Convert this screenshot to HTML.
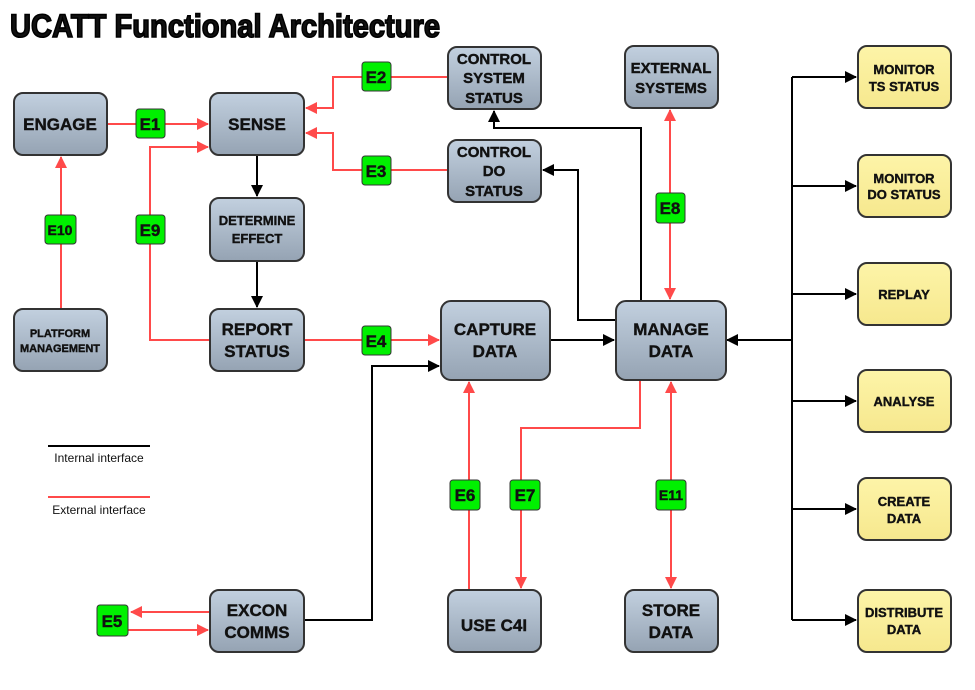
<!DOCTYPE html>
<html><head><meta charset="utf-8"><style>
html,body{margin:0;padding:0;background:#fff;width:975px;height:690px;overflow:hidden}
svg{display:block}
text{font-family:"Liberation Sans",sans-serif;font-weight:bold;text-anchor:middle;fill:#111}
.b text{stroke:#111;stroke-width:0.4}
</style></head><body>
<svg width="975" height="690" viewBox="0 0 975 690" xmlns="http://www.w3.org/2000/svg">
<defs>
<linearGradient id="g" x1="0" y1="0" x2="0" y2="1"><stop offset="0" stop-color="#c2d0df"/><stop offset="1" stop-color="#95a3b3"/></linearGradient>
<linearGradient id="y" x1="0" y1="0" x2="0" y2="1"><stop offset="0" stop-color="#fdf4a8"/><stop offset="1" stop-color="#f6e88e"/></linearGradient>
<marker id="ab" markerWidth="12" markerHeight="12" refX="11" refY="6" orient="auto" markerUnits="userSpaceOnUse"><path d="M0,0 L12,6 L0,12 z" fill="#000"/></marker>
<marker id="ar" markerWidth="12" markerHeight="12" refX="11" refY="6" orient="auto" markerUnits="userSpaceOnUse"><path d="M0,0 L12,6 L0,12 z" fill="#ff4a4a"/></marker>
<marker id="arS" markerWidth="12" markerHeight="12" refX="1" refY="6" orient="auto" markerUnits="userSpaceOnUse"><path d="M12,0 L0,6 L12,12 z" fill="#ff4a4a"/></marker>
</defs>
<text x="10" y="37" font-size="32" textLength="430" lengthAdjust="spacingAndGlyphs" style="text-anchor:start;stroke:#000;stroke-width:1.6">UCATT Functional Architecture</text>

<g fill="none" stroke-width="2">
<g stroke="#ff4a4a">
<path d="M107,124 H208" marker-end="url(#ar)"/>
<path d="M210,340 H150 V147 H208" marker-end="url(#ar)"/>
<path d="M61,309 V157" marker-end="url(#ar)"/>
<path d="M448,77 H333 V108 H306" marker-end="url(#ar)"/>
<path d="M448,170 H333 V133 H306" marker-end="url(#ar)"/>
<path d="M304,340 H439" marker-end="url(#ar)"/>
<path d="M670,110 V299" marker-start="url(#arS)" marker-end="url(#ar)"/>
<path d="M671,382 V588" marker-start="url(#arS)" marker-end="url(#ar)"/>
<path d="M469,590 V382" marker-end="url(#ar)"/>
<path d="M640,380 V428 H521 V588" marker-end="url(#ar)"/>
<path d="M210,612 H131" marker-end="url(#ar)"/>
<path d="M128,630 H208" marker-end="url(#ar)"/>
<path d="M48,497 H150"/>
</g>
<g stroke="#000">
<path d="M257,155 V196" marker-end="url(#ab)"/>
<path d="M257,261 V307" marker-end="url(#ab)"/>
<path d="M550,340 H614" marker-end="url(#ab)"/>
<path d="M641,301 V128 H494 V111" marker-end="url(#ab)"/>
<path d="M616,320 H578 V170 H543" marker-end="url(#ab)"/>
<path d="M304,620 H372 V366 H439" marker-end="url(#ab)"/>
<path d="M792,340 H727" marker-end="url(#ab)"/>
<path d="M792,77 V620"/>
<path d="M792,77 H856" marker-end="url(#ab)"/>
<path d="M792,186 H856" marker-end="url(#ab)"/>
<path d="M792,294 H856" marker-end="url(#ab)"/>
<path d="M792,401 H856" marker-end="url(#ab)"/>
<path d="M792,509 H856" marker-end="url(#ab)"/>
<path d="M792,620 H856" marker-end="url(#ab)"/>
<path d="M48,446 H150"/>
</g>
</g>

<g stroke="#333" stroke-width="2" fill="url(#g)">
<rect x="14" y="93" width="93" height="62" rx="9"/>
<rect x="210" y="93" width="94" height="62" rx="9"/>
<rect x="448" y="47" width="93" height="62" rx="9"/>
<rect x="448" y="140" width="93" height="62" rx="9"/>
<rect x="625" y="46" width="93" height="62" rx="9"/>
<rect x="210" y="198" width="94" height="63" rx="9"/>
<rect x="14" y="309" width="93" height="62" rx="9"/>
<rect x="210" y="309" width="94" height="62" rx="9"/>
<rect x="441" y="301" width="109" height="79" rx="10"/>
<rect x="616" y="301" width="110" height="79" rx="10"/>
<rect x="210" y="590" width="94" height="62" rx="9"/>
<rect x="448" y="590" width="93" height="62" rx="9"/>
<rect x="625" y="590" width="93" height="62" rx="9"/>
</g>
<g stroke="#333" stroke-width="2" fill="url(#y)">
<rect x="858" y="46" width="93" height="62" rx="9"/>
<rect x="858" y="155" width="93" height="62" rx="9"/>
<rect x="858" y="263" width="93" height="62" rx="9"/>
<rect x="858" y="370" width="93" height="62" rx="9"/>
<rect x="858" y="478" width="93" height="62" rx="9"/>
<rect x="858" y="590" width="93" height="62" rx="9"/>
</g>
<g stroke="#333" stroke-width="1" fill="#00f000">
<rect x="136" y="109" width="29" height="29" rx="3"/>
<rect x="362" y="62" width="29" height="29" rx="3"/>
<rect x="362" y="156" width="29" height="29" rx="3"/>
<rect x="362" y="326" width="29" height="29" rx="3"/>
<rect x="97" y="605" width="31" height="31" rx="3"/>
<rect x="450" y="480" width="30" height="30" rx="3"/>
<rect x="510" y="480" width="30" height="30" rx="3"/>
<rect x="656" y="193" width="29" height="30" rx="3"/>
<rect x="136" y="215" width="29" height="29" rx="3"/>
<rect x="45" y="215" width="31" height="29" rx="3"/>
<rect x="656" y="480" width="30" height="30" rx="3"/>
</g>
<g class="b">
<g font-size="17">
<text x="150" y="130">E1</text>
<text x="376" y="83">E2</text>
<text x="376" y="177">E3</text>
<text x="376" y="347">E4</text>
<text x="112" y="627">E5</text>
<text x="465" y="501">E6</text>
<text x="525" y="501">E7</text>
<text x="670" y="214">E8</text>
<text x="150" y="236">E9</text>
</g>
<g font-size="14"><text x="60" y="235">E10</text><text x="671" y="500">E11</text></g>

<g font-size="17">
<text x="60" y="130">ENGAGE</text>
<text x="257" y="130">SENSE</text>
<text x="494" y="631">USE C4I</text>
</g>
<g font-size="15">
<text x="494" y="64">CONTROL</text><text x="494" y="83">SYSTEM</text><text x="494" y="103">STATUS</text>
<text x="494" y="157">CONTROL</text><text x="494" y="176">DO</text><text x="494" y="196">STATUS</text>
<text x="671" y="73">EXTERNAL</text><text x="671" y="93">SYSTEMS</text>
</g>
<g font-size="17">
<text x="257" y="335">REPORT</text><text x="257" y="357">STATUS</text>
<text x="495" y="335">CAPTURE</text><text x="495" y="357">DATA</text>
<text x="671" y="335">MANAGE</text><text x="671" y="357">DATA</text>
<text x="257" y="616">EXCON</text><text x="257" y="638">COMMS</text>
<text x="671" y="616">STORE</text><text x="671" y="638">DATA</text>
</g>
<g font-size="13"><text x="257" y="225">DETERMINE</text><text x="257" y="243">EFFECT</text></g>
<g font-size="11"><text x="60" y="337">PLATFORM</text><text x="60" y="352">MANAGEMENT</text></g>
<g font-size="13">
<text x="904" y="74">MONITOR</text><text x="904" y="91">TS STATUS</text>
<text x="904" y="183">MONITOR</text><text x="904" y="199">DO STATUS</text>
<text x="904" y="299">REPLAY</text>
<text x="904" y="406">ANALYSE</text>
<text x="904" y="506">CREATE</text><text x="904" y="523">DATA</text>
<text x="904" y="617">DISTRIBUTE</text><text x="904" y="634">DATA</text>
</g>
</g>
<g font-size="12">
<text x="99" y="462" fill="#222" style="font-weight:normal">Internal interface</text>
<text x="99" y="514" fill="#222" style="font-weight:normal">External interface</text>
</g>
</svg>
</body></html>
